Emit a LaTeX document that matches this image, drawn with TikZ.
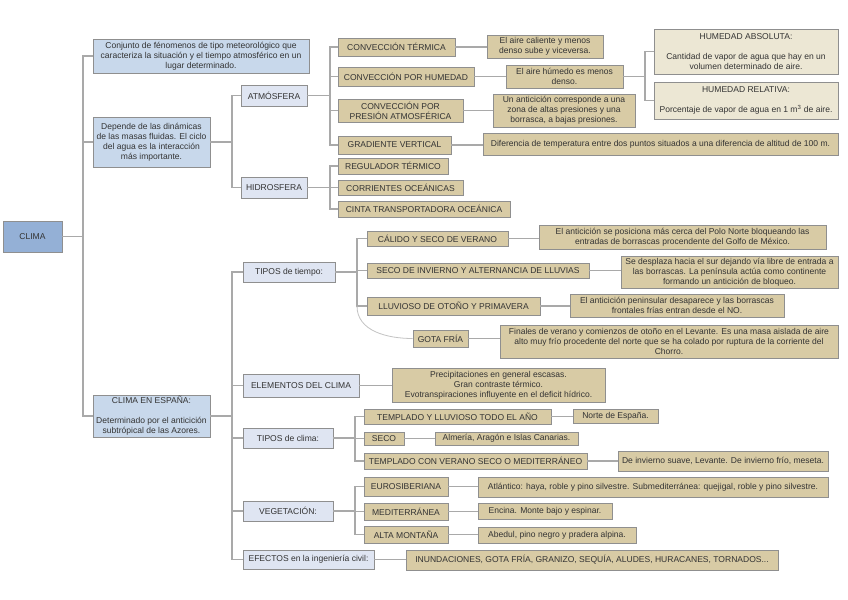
\documentclass[tikz,border=0pt]{standalone}
\usepackage{fontspec}
\setmainfont{Liberation Sans}
\definecolor{cclima}{HTML}{94B0D6}
\definecolor{cone}{HTML}{C8D8EB}
\definecolor{ctwo}{HTML}{DFE5F2}
\definecolor{ctan}{HTML}{D8CBA5}
\definecolor{clight}{HTML}{ECE7D4}
\definecolor{boxline}{HTML}{8F8F8F}
\definecolor{lnc}{HTML}{A9A9A9}
\definecolor{txt}{HTML}{333333}
\tikzset{
  bx/.style={draw=boxline, line width=0.5pt, inner sep=1pt, align=center, text=txt,
    font=\fontsize{6.4}{7.6}\selectfont},
  bclima/.style={bx, fill=cclima},
  bone/.style={bx, fill=cone},
  btwo/.style={bx, fill=ctwo},
  btan/.style={bx, fill=ctan},
  blight/.style={bx, fill=clight},
  ln/.style={draw=lnc, line width=0.8pt},
  lncurve/.style={draw=lnc!70, line width=0.6pt},
}
\newcommand\mybox[7]{\node[#2, minimum width={(#5-#3)*0.75pt}, minimum height={(#6-#4)*0.75pt}] (#1) at ({(#3+#5)/2},{(#4+#6)/2}) {#7};}
\begin{document}
\begin{tikzpicture}[x=0.75pt,y=-0.75pt]
\fill[white] (0,0) rectangle (848,599);
\useasboundingbox (0,0) rectangle (848,599);

% ---------- coordinates of buses
\coordinate (b1) at (83,236.5);
\coordinate (b2) at (232,142);
\coordinate (ba) at (330,95.5);
\coordinate (bh) at (330,187.5);
\coordinate (bhm) at (645,76.5);
\coordinate (be) at (232,416);
\coordinate (bt) at (357,271);
\coordinate (bc) at (355,438);
\coordinate (bv) at (355,511);

% ---------- boxes
\mybox{clima}{bclima}{3}{221}{62}{252}{CLIMA}
\mybox{conj}{bone}{93}{39}{309}{73}{Conjunto de fénomenos de tipo meteorológico que\\caracteriza la situación y el tiempo atmosférico en un\\lugar determinado.}
\mybox{dep}{bone}{93}{117}{210}{167}{Depende de las dinámicas\\de las masas fluidas. El ciclo\\del agua es la interacción\\más importante.}
\mybox{esp}{bone}{93}{395}{210}{437}{CLIMA EN ESPAÑA:\\[7.5pt]Determinado por el anticición\\subtrópical de las Azores.}

\mybox{atm}{btwo}{241}{85}{307}{106}{ATMÓSFERA}
\mybox{hid}{btwo}{241}{177}{307}{198}{HIDROSFERA}

\mybox{ct}{btan}{338}{38}{455}{56}{CONVECCIÓN TÉRMICA}
\mybox{ch}{btan}{338}{67}{474}{86}{CONVECCIÓN POR HUMEDAD}
\mybox{cp}{btan}{338}{99}{463}{122}{CONVECCIÓN POR\\PRESIÓN ATMOSFÉRICA}
\mybox{gv}{btan}{338}{136}{451}{154}{GRADIENTE VERTICAL}
\mybox{rt}{btan}{338}{158}{448}{174}{REGULADOR TÉRMICO}
\mybox{co}{btan}{338}{180}{463}{195}{CORRIENTES OCEÁNICAS}
\mybox{ci}{btan}{338}{201}{510}{217}{CINTA TRANSPORTADORA OCEÁNICA}

\mybox{dct}{btan}{487}{35}{603}{58}{El aire caliente y menos\\denso sube y viceversa.}
\mybox{dch}{btan}{506}{65}{623}{88}{El aire húmedo es menos\\denso.}
\mybox{dcp}{btan}{493}{94}{635}{127}{Un anticición corresponde a una\\zona de altas presiones y una\\borrasca, a bajas presiones.}
\mybox{dgv}{btan}{483}{133}{838}{155}{Diferencia de temperatura entre dos puntos situados a una diferencia de altitud de 100 m.}
\mybox{ha}{blight}{654}{29}{838}{74}{HUMEDAD ABSOLUTA:\\[7.5pt]Cantidad de vapor de agua que hay en un\\volumen determinado de aire.}
\mybox{hr}{blight}{654}{82}{838}{119}{HUMEDAD RELATIVA:\\[7.5pt]Porcentaje de vapor de agua en 1 m\textsuperscript{3} de aire.}

\mybox{tiempo}{btwo}{243}{262}{335}{282}{TIPOS de tiempo:}
\mybox{cal}{btan}{367}{231}{508}{246}{CÁLIDO Y SECO DE VERANO}
\mybox{sec}{btan}{367}{263}{589}{278}{SECO DE INVIERNO Y ALTERNANCIA DE LLUVIAS}
\mybox{llu}{btan}{367}{297}{540}{315}{LLUVIOSO DE OTOÑO Y PRIMAVERA}
\mybox{gota}{btan}{413}{330}{468}{347}{GOTA FRÍA}
\mybox{dcal}{btan}{539}{225}{826}{249}{El anticición se posiciona más cerca del Polo Norte bloqueando las\\entradas de borrascas procendente del Golfo de México.}
\mybox{dsec}{btan}{621}{256}{838}{288}{Se desplaza hacia el sur dejando vía libre de entrada a\\las borrascas. La península actúa como continente\\formando un anticición de bloqueo.}
\mybox{dllu}{btan}{570}{294}{784}{317}{El anticición peninsular desaparece y las borrascas\\frontales frías entran desde el NO.}
\mybox{dgota}{btan}{500}{325}{838}{358}{Finales de verano y comienzos de otoño en el Levante. Es una masa aislada de aire\\alto muy frío procedente del norte que se ha colado por ruptura de la corriente del\\Chorro.}

\mybox{elem}{btwo}{243}{374}{359}{397}{ELEMENTOS DEL CLIMA}
\mybox{delem}{btan}{392}{368}{605}{402}{Precipitaciones en general escasas.\\Gran contraste térmico.\\Evotranspiraciones influyente en el deficit hídrico.}

\mybox{clim}{btwo}{243}{428}{333}{448}{TIPOS de clima:}
\mybox{tll}{btan}{364}{409}{551}{424}{TEMPLADO Y LLUVIOSO TODO EL AÑO}
\mybox{dtll}{btan}{573}{409}{658}{423}{Norte de España.}
\mybox{seco}{btan}{364}{432}{404}{445}{SECO}
\mybox{dseco}{btan}{435}{432}{578}{445}{Almería, Aragón e Islas Canarias.}
\mybox{tvs}{btan}{364}{453}{587}{469}{TEMPLADO CON VERANO SECO O MEDITERRÁNEO}
\mybox{dtvs}{btan}{618}{451}{828}{471}{De invierno suave, Levante. De invierno frío, meseta.}

\mybox{veg}{btwo}{243}{501}{333}{521}{VEGETACIÓN:}
\mybox{eur}{btan}{364}{477}{448}{496}{EUROSIBERIANA}
\mybox{deur}{btan}{478}{477}{828}{497}{Atlántico: haya, roble y pino silvestre. Submediterránea: quejigal, roble y pino silvestre.}
\mybox{med}{btan}{364}{503}{448}{520}{MEDITERRÁNEA}
\mybox{dmed}{btan}{478}{503}{612}{519}{Encina. Monte bajo y espinar.}
\mybox{alt}{btan}{364}{526}{448}{543}{ALTA MONTAÑA}
\mybox{dalt}{btan}{478}{527}{636}{543}{Abedul, pino negro y pradera alpina.}

\mybox{efe}{btwo}{243}{550}{374}{569}{EFECTOS en la ingeniería civil:}
\mybox{defe}{btan}{406}{550}{778}{570}{INUNDACIONES, GOTA FRÍA, GRANIZO, SEQUÍA, ALUDES, HURACANES, TORNADOS...}

% ---------- connectors
\begin{scope}[on background layer/.try]
\end{scope}
\draw[ln] (conj.west) -| (b1) |- (esp.west);
\draw[ln] (dep.west) -- (dep.west -| b1);
\draw[ln] (clima.east) -- (clima.east -| b1);

\draw[ln] (atm.west) -| (b2) |- (hid.west);
\draw[ln] (dep.east) -- (dep.east -| b2);

\draw[ln] (ct.west) -| (ba) |- (gv.west);
\draw[ln] (ch.west) -- (ch.west -| ba);
\draw[ln] (cp.west) -- (cp.west -| ba);
\draw[ln] (atm.east) -- (atm.east -| ba);
\draw[ln] (rt.west) -| (bh) |- (ci.west);
\draw[ln] (co.west) -- (co.west -| bh);
\draw[ln] (hid.east) -- (hid.east -| bh);

\draw[ln] (ct.east) -- (ct.east -| dct.west);
\draw[ln] (ch.east) -- (ch.east -| dch.west);
\draw[ln] (cp.east) -- (cp.east -| dcp.west);
\draw[ln] (gv.east) -- (gv.east -| dgv.west);
\draw[ln] (ha.west) -| (bhm) |- (hr.west);
\draw[ln] (dch.east) -- (dch.east -| bhm);

\draw[ln] (tiempo.west) -| (be) |- (efe.west);
\draw[ln] (esp.east) -- (esp.east -| be);
\draw[ln] (elem.west) -- (elem.west -| be);
\draw[ln] (clim.west) -- (clim.west -| be);
\draw[ln] (veg.west) -- (veg.west -| be);

\draw[ln] (cal.west) -| (bt) |- (llu.west);
\draw[ln] (sec.west) -- (sec.west -| bt);
\draw[ln] (tiempo.east) -- (tiempo.east -| bt);
\draw[lncurve] (llu.west -| bt) to[out=-90,in=180] (gota.west);
\draw[ln] (cal.east) -- (cal.east -| dcal.west);
\draw[ln] (sec.east) -- (sec.east -| dsec.west);
\draw[ln] (llu.east) -- (llu.east -| dllu.west);
\draw[ln] (gota.east) -- (gota.east -| dgota.west);
\draw[ln] (elem.east) -- (elem.east -| delem.west);

\draw[ln] (tll.west) -| (bc) |- (tvs.west);
\draw[ln] (seco.west) -- (seco.west -| bc);
\draw[ln] (clim.east) -- (clim.east -| bc);
\draw[ln] (tll.east) -- (tll.east -| dtll.west);
\draw[ln] (seco.east) -- (seco.east -| dseco.west);
\draw[ln] (tvs.east) -- (tvs.east -| dtvs.west);

\draw[ln] (eur.west) -| (bv) |- (alt.west);
\draw[ln] (med.west) -- (med.west -| bv);
\draw[ln] (veg.east) -- (veg.east -| bv);
\draw[ln] (eur.east) -- (eur.east -| deur.west);
\draw[ln] (med.east) -- (med.east -| dmed.west);
\draw[ln] (alt.east) -- (alt.east -| dalt.west);
\draw[ln] (efe.east) -- (efe.east -| defe.west);
\end{tikzpicture}
\end{document}
